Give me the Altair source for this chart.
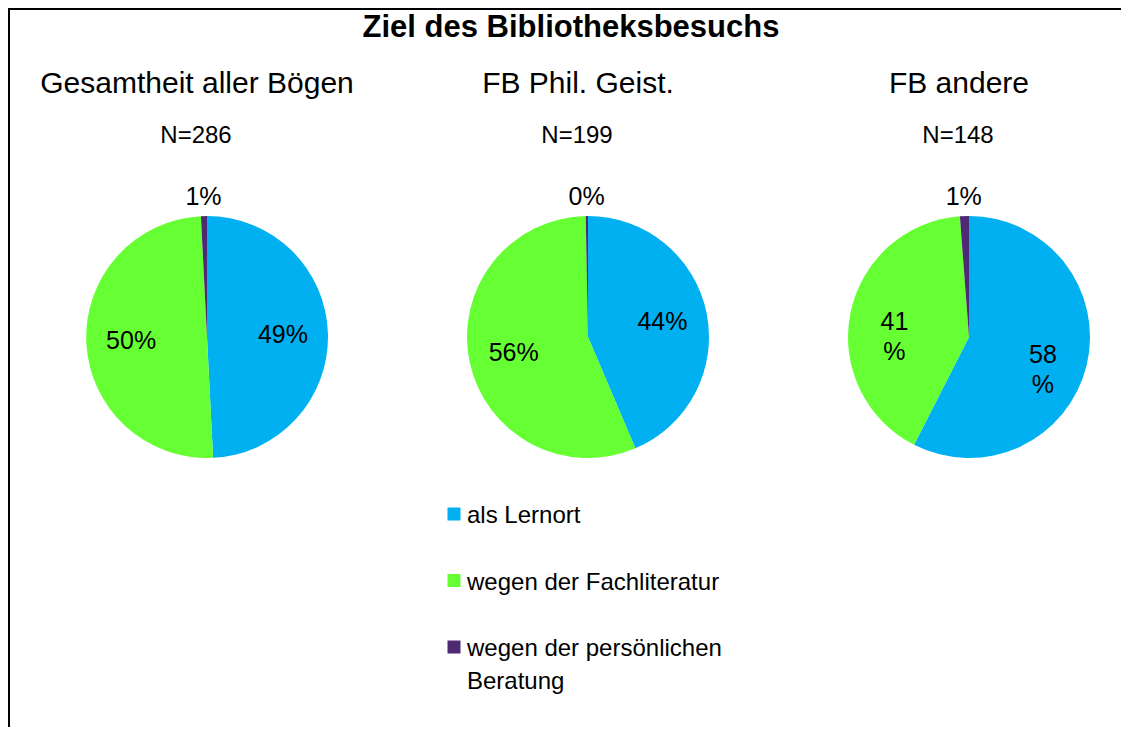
import math
import pandas as pd
import altair as alt

# ---- data ----
title_text = "Ziel des Bibliotheksbesuchs"
groups = ["Gesamtheit aller Bögen", "FB Phil. Geist.", "FB andere"]
n_labels = ["N=286", "N=199", "N=148"]
categories = ["als Lernort", "wegen der Fachliteratur", "wegen der persönlichen Beratung"]
legend_labels = ["als Lernort", "wegen der Fachliteratur", "wegen der persönlichen\nBeratung"]
colors = ["#00B0F0", "#66FF33", "#4F2A74"]

lernort = [49.2, 43.6, 57.5]
fachliteratur = [50.0, 56.1, 41.3]
beratung = [0.8, 0.3, 1.2]

lernort_labels = ["49%", "44%", "58\n%"]
fachliteratur_labels = ["50%", "56%", "41\n%"]
beratung_labels = ["1%", "0%", "1%"]

series = [lernort, fachliteratur, beratung]
series_labels = [lernort_labels, fachliteratur_labels, beratung_labels]

rows = []
for gi, g in enumerate(groups):
    for ci, c in enumerate(categories):
        rows.append({"group": g, "cat": c, "order": ci,
                     "value": series[ci][gi], "label": series_labels[ci][gi]})
pie_df = pd.DataFrame(rows)
head_df = pd.DataFrame({"group": groups, "n": n_labels})
legend_df = pd.DataFrame({"cat": categories, "lab": legend_labels})
title_df = pd.DataFrame({"t": [title_text]})
one = pd.DataFrame({"a": [0]})

W, H = 1113, 719
FONT = "Liberation Sans"
CY = 329
R = 121

xscale = alt.Scale(type="point", domain=groups, range=[199, 961], padding=0)
xenc = alt.X("group:N", scale=xscale, axis=None)
cscale = alt.Scale(domain=categories, range=colors)
thscale = alt.Scale(domain=[0, 1], range=[0, 2 * math.pi])

base = (
    alt.Chart(pie_df)
    .transform_window(cum="sum(value)", groupby=["group"],
                      sort=[alt.SortField("order")], frame=[None, 0])
    .transform_joinaggregate(total="sum(value)", groupby=["group"])
    .transform_calculate(
        start="(datum.cum - datum.value) / datum.total",
        end="datum.cum / datum.total",
        mid="(datum.cum - datum.value / 2) / datum.total",
    )
)

arcs = base.mark_arc(radius=R, strokeWidth=0).encode(
    x=xenc,
    y=alt.value(CY),
    theta=alt.Theta("start:Q", stack=None, scale=thscale),
    theta2="end:Q",
    color=alt.Color("cat:N", scale=cscale, legend=None),
)

inner = base.transform_filter("datum.value >= 2").mark_text(
    radius=76, font=FONT, fontSize=25, baseline="middle", align="center",
    lineBreak="\n", lineHeight=30, color="black",
).encode(
    x=xenc, y=alt.value(CY),
    theta=alt.Theta("mid:Q", stack=None, scale=thscale),
    text="label:N",
)

outer = base.transform_filter("datum.value < 2").mark_text(
    radius=140, font=FONT, fontSize=25, baseline="middle", align="center",
    color="black",
).encode(
    x=xenc, y=alt.value(CY),
    theta=alt.Theta("mid:Q", stack=None, scale=thscale),
    text="label:N",
)

subtitles = alt.Chart(head_df).mark_text(
    font=FONT, fontSize=30, baseline="alphabetic", align="center", dx=-10, color="black"
).encode(x=xenc, y=alt.value(85), text="group:N")

nlab = alt.Chart(head_df).mark_text(
    font=FONT, fontSize=24, baseline="alphabetic", align="center", dx=-11, color="black"
).encode(x=xenc, y=alt.value(135), text="n:N")

title = alt.Chart(title_df).mark_text(
    font=FONT, fontSize=31, fontWeight="bold", baseline="alphabetic", align="center", color="black"
).encode(x=alt.value(563), y=alt.value(29), text="t:N")

yleg = alt.Y("cat:N", scale=alt.Scale(type="point", domain=categories,
                                      range=[506, 639], padding=0), axis=None)
leg_sq = alt.Chart(legend_df).mark_square(size=169, opacity=1).encode(
    x=alt.value(446), y=yleg,
    color=alt.Color("cat:N", scale=cscale, legend=None),
)
leg_tx = alt.Chart(legend_df).mark_text(
    font=FONT, fontSize=24, baseline="alphabetic", align="left", dy=9,
    lineBreak="\n", lineHeight=33, color="black",
).encode(x=alt.value(459), y=yleg, text="lab:N")

frame_left = alt.Chart(one).mark_rule(color="black", strokeWidth=2).encode(
    x=alt.value(1), y=alt.value(0), y2=alt.value(H))
frame_top = alt.Chart(one).mark_rule(color="black", strokeWidth=2).encode(
    x=alt.value(0), x2=alt.value(W), y=alt.value(1))

chart = (
    alt.layer(frame_left, frame_top, title, subtitles, nlab, arcs, inner, outer, leg_sq, leg_tx)
    .properties(width=W, height=H, padding=0, autosize="none", background="white")
    .configure_view(stroke=None)
)

chart.save("out.html", embed_options={"renderer": "svg", "actions": False})
